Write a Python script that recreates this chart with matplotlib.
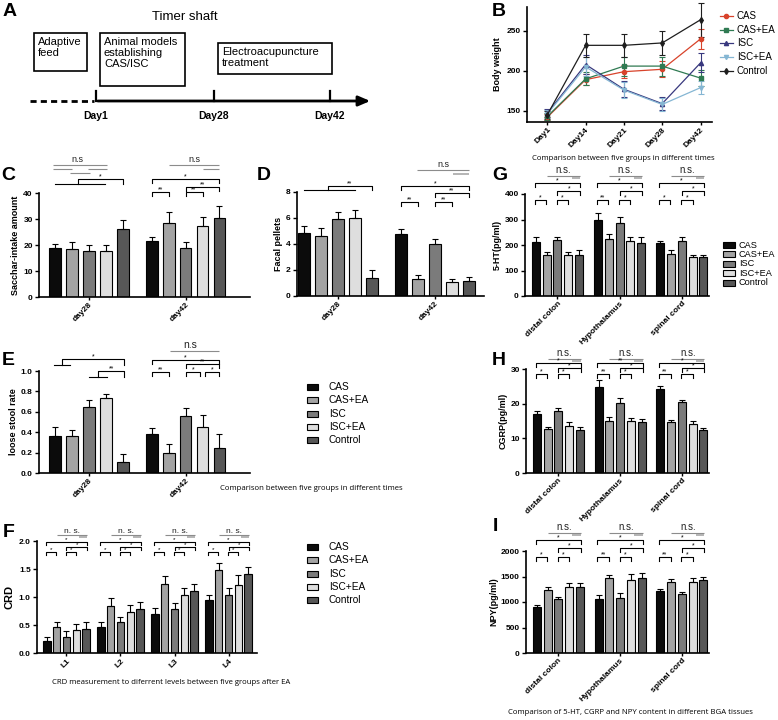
import matplotlib
matplotlib.use("Agg")
import matplotlib.pyplot as plt
from matplotlib.patches import Rectangle
import numpy as np

plt.rcParams['font.family'] = ['Liberation Sans', 'DejaVu Sans']

W, H = 778, 720

# --- Data ---
GROUPS = ["CAS", "CAS+EA", "ISC", "ISC+EA", "Control"]
BAR_COLORS = ["#0b0b0b", "#a3a3a3", "#7b7b7b", "#dedede", "#575757"]

# B: body weight over time (one list per group)
B_DAYS = ["Day1", "Day14", "Day21", "Day28", "Day42"]
B_CAS = [142, 189, 199, 202, 240]
B_CAS_EA = [143, 190, 206, 206, 191]
B_ISC = [147, 208, 177, 159, 210]
B_ISC_EA = [146, 205, 176, 158, 179]
B_CONTROL = [145, 232, 232, 235, 264]
B_CAS_ERR = [4, 7, 8, 10, 12]
B_CAS_EA_ERR = [4, 8, 12, 12, 10]
B_ISC_ERR = [5, 12, 10, 8, 12]
B_ISC_EA_ERR = [5, 12, 10, 8, 8]
B_CONTROL_ERR = [5, 14, 14, 15, 21]
LINE_COLORS = ["#d8432b", "#2f7a52", "#38387e", "#85b6d3", "#1e1e1e"]
LINE_MARKERS = ["o", "s", "^", "v", "d"]

# C: saccharin intake
C_CATS = ["day28", "day42"]
C_MEAN = [[18.8, 18.6, 17.7, 17.7, 26.3], [21.5, 28.5, 18.8, 27.4, 30.4]]
C_ERR = [[1.6, 2.5, 2.3, 2.4, 3.3], [1.5, 4.2, 2.2, 3.2, 4.6]]

# D: fecal pellets
D_CATS = ["day28", "day42"]
D_MEAN = [[4.85, 4.6, 5.9, 6.0, 1.4], [4.8, 1.3, 4.0, 1.05, 1.15]]
D_ERR = [[0.5, 0.6, 0.55, 0.6, 0.6], [0.35, 0.3, 0.35, 0.25, 0.3]]

# E: loose stool rate
E_CATS = ["day28", "day42"]
E_MEAN = [[0.36, 0.36, 0.65, 0.74, 0.11], [0.38, 0.20, 0.56, 0.45, 0.25]]
E_ERR = [[0.09, 0.06, 0.07, 0.03, 0.08], [0.06, 0.08, 0.08, 0.12, 0.13]]

# F: CRD
F_CATS = ["L1", "L2", "L3", "L4"]
F_MEAN = [[0.21, 0.46, 0.29, 0.41, 0.43], [0.47, 0.84, 0.55, 0.74, 0.79],
          [0.70, 1.23, 0.79, 1.03, 1.11], [0.94, 1.48, 1.04, 1.22, 1.41]]
F_ERR = [[0.08, 0.09, 0.10, 0.11, 0.12], [0.09, 0.14, 0.10, 0.12, 0.12],
         [0.10, 0.15, 0.10, 0.13, 0.13], [0.10, 0.13, 0.12, 0.18, 0.12]]

# G/H/I: tissues
TISSUES = ["distal colon", "Hypothalamus", "spinal cord"]
G_MEAN = [[213, 161, 219, 160, 159], [297, 225, 286, 216, 207], [209, 165, 217, 153, 152]]
G_ERR = [[18, 12, 12, 13, 20], [28, 20, 23, 17, 25], [8, 17, 13, 7, 10]]
H_MEAN = [[17.0, 12.8, 17.8, 13.6, 12.5], [24.8, 15.1, 20.2, 15.1, 14.7], [24.2, 14.6, 20.5, 14.2, 12.4]]
H_ERR = [[0.8, 0.5, 1.0, 1.0, 0.8], [2.0, 1.0, 1.5, 0.7, 1.0], [0.8, 0.7, 0.7, 0.7, 0.6]]
I_MEAN = [[900, 1230, 1050, 1290, 1300], [1060, 1470, 1080, 1440, 1470], [1220, 1400, 1160, 1400, 1430]]
I_ERR = [[50, 60, 50, 80, 80], [70, 60, 90, 100, 100], [40, 50, 40, 70, 70]]

fig = plt.figure(figsize=(W / 100, H / 100), dpi=100)

# overlay in pixel coordinates for diagram, letters, captions, legends
ov = fig.add_axes([0, 0, 1, 1])
ov.set_xlim(0, W)
ov.set_ylim(H, 0)
ov.axis("off")


def add_ax(l, t, r, b):
    return fig.add_axes([l / W, 1 - b / H, (r - l) / W, (b - t) / H])


def style(ax, yticks, ylabels, ylabel, pad=2):
    for s in ["top", "right"]:
        ax.spines[s].set_visible(False)
    for s in ["left", "bottom"]:
        ax.spines[s].set_linewidth(1.2)
    ax.set_yticks(yticks)
    ax.set_yticklabels(ylabels, fontsize=6, fontweight="bold")
    ax.tick_params(axis="y", length=3, width=1, pad=1.5)
    ax.tick_params(axis="x", length=2, width=1, pad=1)
    ax.set_ylabel(ylabel, fontsize=6.5, fontweight="bold", labelpad=pad)


def bar_panel(box, cats, means, errs, gap, width, xlim, ylim, yticks, ylabels, ylabel, pad=2):
    ax = add_ax(*box)
    for g in range(len(cats)):
        xs = g * gap + np.arange(len(GROUPS))
        ax.bar(xs, means[g], width, color=BAR_COLORS, edgecolor="k", linewidth=0.8, zorder=2)
        ax.errorbar(xs, means[g], yerr=[np.zeros(len(GROUPS)), errs[g]], fmt="none",
                    ecolor="k", elinewidth=0.8, capsize=2, capthick=0.8, zorder=3)
    ax.set_xticks([g * gap + 2 for g in range(len(cats))])
    ax.set_xticklabels(cats, rotation=45, ha="right", rotation_mode="anchor",
                       fontsize=6, fontweight="bold")
    ax.set_xlim(xlim)
    ax.set_ylim(ylim)
    style(ax, yticks, ylabels, ylabel, pad)
    return ax


# --- significance helpers (levels are pixels above the axis top) ---
def lv(ax, p):
    y0, y1 = ax.get_ylim()
    return y1 + p * (y1 - y0) / (ax.get_position().height * H)


def hl(ax, x1, x2, p, c="#8c8c8c", lw=0.8):
    ax.plot([x1, x2], [lv(ax, p)] * 2, color=c, lw=lw, clip_on=False, solid_capstyle="butt")


def br(ax, x1, x2, p, txt, tk=3.5, fs=5):
    y, yb = lv(ax, p), lv(ax, p - tk)
    ax.plot([x1, x1, x2, x2], [yb, y, y, yb], color="k", lw=0.8, clip_on=False)
    ax.text((x1 + x2) / 2, lv(ax, p + 0.5), txt, ha="center", va="baseline", fontsize=fs, clip_on=False)


def jbr(ax, xa, xb, xm, x2, pb, pt, txt, fs=5):
    yb, yt = lv(ax, pb), lv(ax, pt)
    ax.plot([xa, xb], [yb, yb], color="k", lw=0.8, clip_on=False)
    ax.plot([xm, xm, x2, x2], [yb, yt, yt, yb], color="k", lw=0.8, clip_on=False)
    ax.text((xm + x2) / 2, lv(ax, pt + 0.5), txt, ha="center", va="baseline", fontsize=fs, clip_on=False)


def nst(ax, x, p, txt, fs=6.5):
    ax.text(x, lv(ax, p), txt, ha="center", va="bottom", fontsize=fs, color="#222222", clip_on=False)


def tissue_sigs(ax, gap, small, big, lv_ns, lv_l1, lv_l2, lv_big, lv_mid, lv_small, ns="n.s.",
                tk=3.5, fs=5, nsfs=7):
    for g in range(len(small)):
        o = g * gap
        nst(ax, o + 2.55, lv_ns, ns, fs=nsfs)
        hl(ax, o + 1.0, o + 4.1, lv_l1)
        hl(ax, o + 3.3, o + 4.1, lv_l2, c="#a0a0a0", lw=1.1)
        br(ax, o - 0.1, o + 4.1, lv_big, big[g], tk, fs)
        br(ax, o + 2.0, o + 4.1, lv_mid, "*", tk, fs)
        br(ax, o - 0.1, o + 0.95, lv_small, small[g], tk, fs)
        br(ax, o + 1.95, o + 3.0, lv_small, "*", tk, fs)


# ---------------- Panel A ----------------
ov.text(185, 17, "Timer shaft", ha="center", va="center", fontsize=9.5)
for (l, t, r, b, txt) in [(34, 33, 87, 71, "Adaptive\nfeed"),
                          (100, 33, 185, 86, "Animal models\nestablishing\nCAS/ISC"),
                          (218, 43, 332, 74, "Electroacupuncture\ntreatment")]:
    ov.add_patch(Rectangle((l, t), r - l, b - t, fill=False, lw=1.2, ec="k"))
    ov.text(l + 4, t + 4, txt, ha="left", va="top", fontsize=8, linespacing=1.1)
ov.plot([30, 94], [101, 101], color="k", lw=2, ls=(0, (2.2, 1.5)))
ov.annotate("", xy=(373, 101), xytext=(95, 101),
            arrowprops=dict(arrowstyle="-|>,head_length=0.7,head_width=0.3", lw=2, color="k"))
for x, lab in [(96, "Day1"), (214, "Day28"), (330, "Day42")]:
    ov.plot([x, x], [101, 91], color="k", lw=1.6)
    ov.text(x, 116, lab, ha="center", va="center", fontsize=7.5, fontweight="bold")

# ---------------- Panel B ----------------
axB = add_ax(527, 7, 712, 122)
b_means = [B_CAS, B_CAS_EA, B_ISC, B_ISC_EA, B_CONTROL]
b_errs = [B_CAS_ERR, B_CAS_EA_ERR, B_ISC_ERR, B_ISC_EA_ERR, B_CONTROL_ERR]
bx = np.arange(len(B_DAYS))
for m, e, c, mk in zip(b_means, b_errs, LINE_COLORS, LINE_MARKERS):
    axB.errorbar(bx, m, yerr=e, color=c, marker=mk, ms=3, lw=0.9, elinewidth=0.8,
                 capsize=2, capthick=0.8, clip_on=False)
axB.set_xlim(-0.53, 4.3)
axB.set_ylim(136, 280)
axB.set_xticks(bx)
axB.set_xticklabels(B_DAYS, rotation=45, ha="right", rotation_mode="anchor", fontsize=6, fontweight="bold")
style(axB, [150, 200, 250], ["150", "200", "250"], "Body weight", 3)
for i, (name, c, mk) in enumerate(zip(GROUPS, LINE_COLORS, LINE_MARKERS)):
    y = 16 + i * 13.7
    ov.plot([720, 733], [y, y], color=c, lw=0.9)
    ov.plot([726.5], [y], color=c, marker=mk, ms=3)
    ov.text(737, y, name, ha="left", va="center", fontsize=7)
ov.text(623, 158, "Comparison between five groups in different times", ha="center", va="center",
        fontsize=5.6, family="Open Sans")

# ---------------- Panel C ----------------
gapCE = 5.7
axC = bar_panel((39, 193, 250, 297), C_CATS, C_MEAN, C_ERR, gapCE, 0.7, (-0.94, 11.5),
                (0, 40), [0, 10, 20, 30, 40], ["0", "10", "20", "30", "40"], "Sacchar-intake amount")
nst(axC, 1.35, 29, "n.s")
hl(axC, -0.1, 3.06, 28)
hl(axC, -0.1, 1.0, 24)
hl(axC, 1.94, 3.06, 24)
hl(axC, 0.88, 2.06, 20)
jbr(axC, 0, 2.94, 1.35, 4.0, 9, 14, "*")
o = gapCE
nst(axC, o + 2.5, 29, "n.s")
hl(axC, o + 1, o + 4, 28)
hl(axC, o + 3, o + 4, 24)
br(axC, o, o + 4, 14, "*")
br(axC, o + 2, o + 4, 6, "**")
br(axC, o, o + 1, 1, "**")
br(axC, o + 2, o + 3, 1, "**")

# ---------------- Panel D ----------------
axD = bar_panel((297, 192, 484, 296), D_CATS, D_MEAN, D_ERR, gapCE, 0.7, (-0.41, 10.6),
                (0, 8), [0, 2, 4, 6, 8], ["0", "2", "4", "6", "8"], "Facal pellets")
jbr(axD, 0, 3.0, 1.4, 4.0, 2, 6, "**")
o = gapCE
nst(axD, o + 2.5, 23, "n.s")
hl(axD, o + 0.95, o + 4, 22)
hl(axD, o + 3.1, o + 4, 18, c="#a0a0a0", lw=1.1)
br(axD, o, o + 4, 6, "*")
br(axD, o + 2, o + 4, -1, "**")
br(axD, o, o + 1, -10, "**")
br(axD, o + 2, o + 3, -10, "**")

# ---------------- Panel E ----------------
axE = bar_panel((39, 371, 250, 473), E_CATS, E_MEAN, E_ERR, gapCE, 0.7, (-0.94, 11.5),
                (0, 1.0), [0, 0.2, 0.4, 0.6, 0.8, 1.0], ["0.0", "0.2", "0.4", "0.6", "0.8", "1.0"],
                "loose stool rate")
jbr(axE, -0.06, 0.88, 0.41, 4.06, 6, 12, "*")
jbr(axE, 2.0, 3.06, 2.53, 4.1, -6, 0, "**")
o = gapCE
nst(axE, o + 2.3, 21, "n.s", fs=7.5)
hl(axE, o + 1.06, o + 4, 20)
br(axE, o, o + 4, 11, "*")
br(axE, o + 2, o + 4, 7, "**")
br(axE, o, o + 1, -1, "**")
br(axE, o + 2, o + 2.85, -1, "*")
br(axE, o + 3.15, o + 4, -1, "*")
for i, (name, c) in enumerate(zip(GROUPS, BAR_COLORS)):
    y = 387 + i * 13.3
    ov.add_patch(Rectangle((307, y - 3), 11, 6, fc=c, ec="k", lw=0.8))
    ov.text(329, y, name, ha="left", va="center", fontsize=7.3)
ov.text(311, 488, "Comparison between five groups in different times", ha="center", va="center",
        fontsize=5.6, family="Open Sans")

# ---------------- Panel F ----------------
gapF = 5.5
axF = bar_panel((37, 541, 257, 653), F_CATS, F_MEAN, F_ERR, gapF, 0.75, (-1.0, 21.4),
                (0, 2.0), [0, 0.5, 1.0, 1.5, 2.0], ["0.0", "0.5", "1.0", "1.5", "2.0"], "CRD", 3)
axF.set_ylabel("CRD", fontsize=8, fontweight="bold", labelpad=3)
tissue_sigs(axF, gapF, ["*"] * 4, ["*"] * 4, 6, 6, 4, -1, -6, -11, ns="n. s.", tk=3, fs=4.5, nsfs=6)
for i, (name, c) in enumerate(zip(GROUPS, BAR_COLORS)):
    y = 547 + i * 13.3
    ov.add_patch(Rectangle((307, y - 3), 11, 6, fc=c, ec="k", lw=0.8))
    ov.text(329, y, name, ha="left", va="center", fontsize=7.3)
ov.text(171, 683, "CRD measurement to diferrent levels between five groups after EA", ha="center",
        va="center", fontsize=5.6, family="Open Sans")

# ---------------- Panels G, H, I ----------------
gapT = 5.74
axG = bar_panel((525, 194, 709, 296), TISSUES, G_MEAN, G_ERR, gapT, 0.74, (-1.0, 16.0),
                (0, 400), [0, 100, 200, 300, 400], ["0", "100", "200", "300", "400"], "5-HT(pg/ml)")
tissue_sigs(axG, gapT, ["*", "**", "*"], ["*", "*", "*"], 19, 18, 16, 11, 3, -6)
axH = bar_panel((526, 369, 709, 473), TISSUES, H_MEAN, H_ERR, gapT, 0.74, (-1.0, 16.0),
                (0, 30), [0, 10, 20, 30], ["0", "10", "20", "30"], "CGRP(pg/ml)")
tissue_sigs(axH, gapT, ["*", "**", "**"], ["*", "**", "*"], 11, 10, 8, 6, 1, -5)
axI = bar_panel((526, 551, 709, 653), TISSUES, I_MEAN, I_ERR, gapT, 0.74, (-1.0, 16.0),
                (0, 2000), [0, 500, 1000, 1500, 2000], ["0", "500", "1000", "1500", "2000"], "NPY(pg/ml)")
tissue_sigs(axI, gapT, ["*", "**", "**"], ["*", "*", "*"], 19, 18, 16, 11, 3, -6)
for i, (name, c) in enumerate(zip(GROUPS, BAR_COLORS)):
    y = 245 + i * 9.4
    ov.add_patch(Rectangle((723, y - 3), 12, 6, fc=c, ec="k", lw=0.8))
    ov.text(739, y, name, ha="left", va="center", fontsize=6.6)
ov.text(630, 712, "Comparison of 5-HT, CGRP and NPY content in different BGA tissues", ha="center",
        va="center", fontsize=5.6, family="Open Sans")

# ---------------- Panel letters ----------------
for lab, x, y in [("A", 3, 3), ("B", 492, 3), ("C", 1, 167), ("D", 257, 167), ("G", 492, 167),
                  ("E", 2, 352), ("H", 492, 352), ("F", 3, 524), ("I", 493, 518)]:
    ov.text(x, y, lab, ha="left", va="top", fontsize=14, fontweight="bold")

fig.savefig("out.png", dpi=100)
